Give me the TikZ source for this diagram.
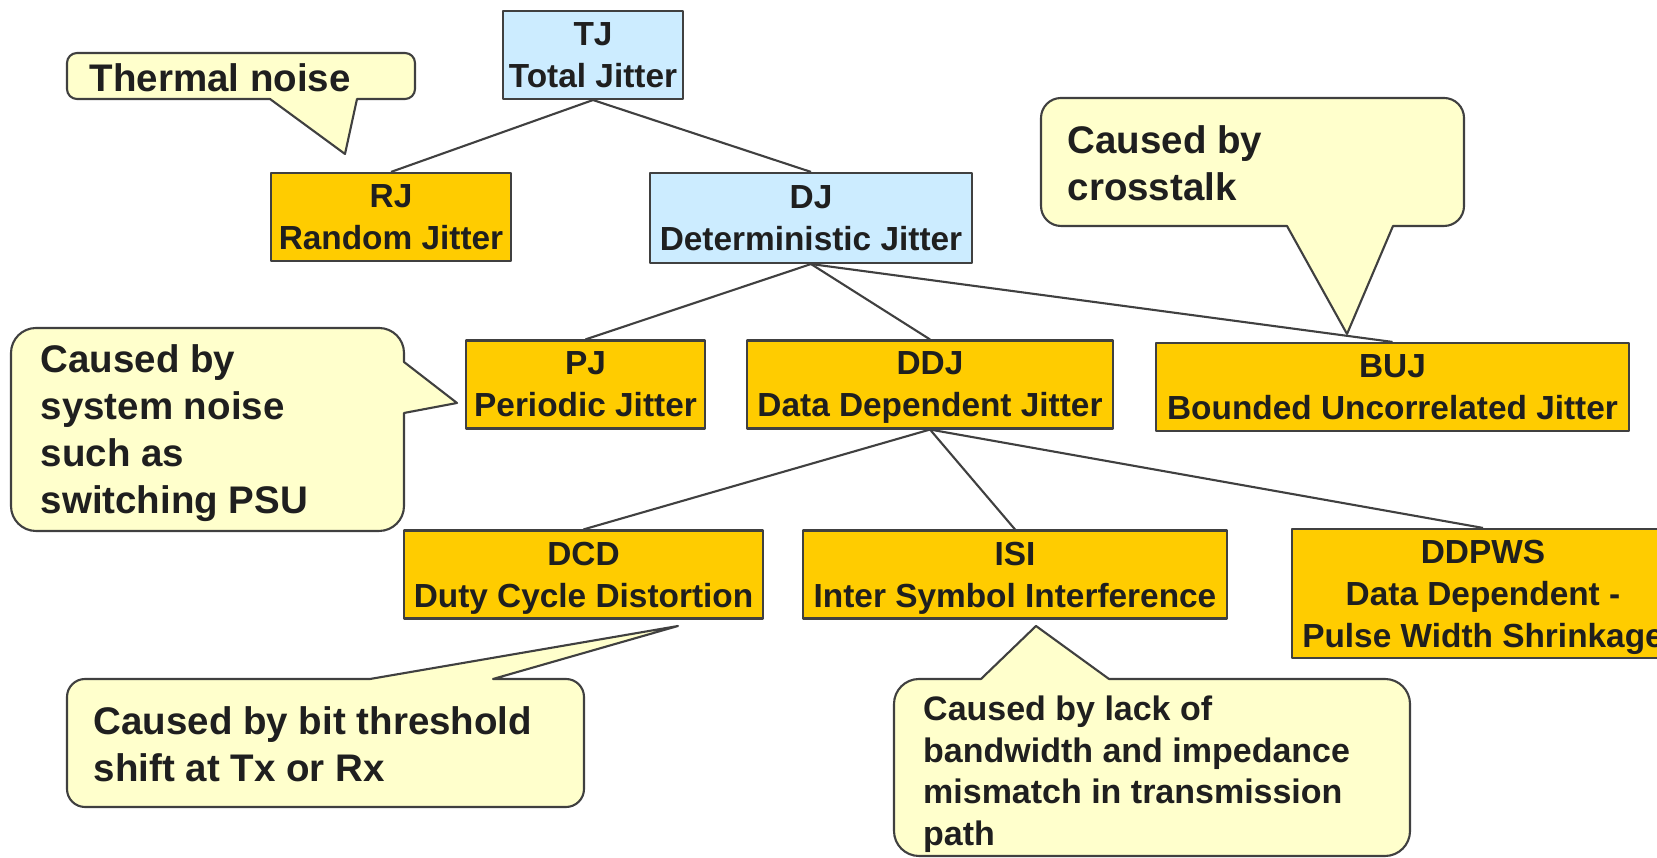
\documentclass[tikz,border=0pt]{standalone}
\usepackage{fontspec}
\setmainfont{Liberation Sans}
\usepackage{tikz}
\usepackage{xcolor}

\definecolor{jitblue}{HTML}{CCECFF}
\definecolor{jitorange}{HTML}{FFCC00}
\definecolor{notefill}{HTML}{FFFFCC}
\definecolor{edgegray}{HTML}{404040}

\tikzset{
	jitbox/.style={draw=edgegray, line width=0.6pt, inner sep=0pt, align=center,
		text=black!88, minimum height=0.88cm, text depth=0pt,
		font=\fontsize{9.5}{11.95}\selectfont\bfseries},
	bluebox/.style={jitbox, fill=jitblue},
	orangebox/.style={jitbox, fill=jitorange},
	note/.style={draw=edgegray, fill=notefill, line width=0.6pt},
	notetext/.style={inner sep=0pt, align=left, anchor=north west, text=black!88,
		font=\fontsize{10.95}{13.4}\selectfont\bfseries},
	link/.style={draw=edgegray, line width=0.6pt}
}

\begin{document}
\begin{tikzpicture}[line join=round]
		\useasboundingbox (0,0) rectangle (16.57,8.58);
		
		% callouts
		\draw[note] (2.4,8.05) [rounded corners=1mm] -- (0.67,8.05) -- (0.67,7.59)
		-- (1.5,7.59) [sharp corners] -- (2.70,7.59) -- (3.45,7.04) -- (3.57,7.59)
		-- (3.9,7.59) [rounded corners=1mm] -- (4.15,7.59) -- (4.15,8.05) -- cycle;
		
		\draw[note] (12.5,7.60) [rounded corners=2mm] -- (10.41,7.60) -- (10.41,6.32)
		-- (11.5,6.32) [sharp corners] -- (12.87,6.32) -- (13.47,5.24) -- (13.93,6.32)
		-- (14.2,6.32) [rounded corners=2mm] -- (14.64,6.32) -- (14.64,7.60) -- cycle;
		
		\draw[note] (2,5.30) [rounded corners=2.5mm] -- (0.11,5.30) -- (0.11,3.27)
		-- (4.04,3.27) -- (4.04,4.2) [sharp corners] -- (4.04,4.45) -- (4.57,4.55)
		-- (4.04,4.96) -- (4.04,5.0) [rounded corners=2.5mm] -- (4.04,5.30) -- cycle;
		
		\draw[note] (2,1.79) [rounded corners=1.8mm] -- (0.67,1.79) -- (0.67,0.51)
		-- (5.84,0.51) -- (5.84,1.79) -- (5.3,1.79) [sharp corners] -- (4.93,1.79)
		-- (6.78,2.32) -- (3.70,1.79) -- (3.2,1.79) [rounded corners=1.8mm] -- cycle;
		
		\draw[note] (12.5,1.79) [rounded corners=2.5mm] -- (14.10,1.79) -- (14.10,0.02)
		-- (8.94,0.02) -- (8.94,1.79) -- (9.5,1.79) [sharp corners] -- (9.81,1.79)
		-- (10.36,2.32) -- (11.09,1.79) -- (11.5,1.79) [rounded corners=2.5mm] -- cycle;
		
		\node[notetext] (thermal) at (0.89,7.95) {Thermal noise};
		\node[notetext] (xtalk) at (10.67,7.33) {Caused by\\crosstalk};
		\node[notetext] (psu) at (0.40,5.14) {Caused by\\system noise\\such as\\switching PSU};
		\node[notetext] (thresh) at (0.93,1.52) {Caused by bit threshold\\shift at Tx or Rx};
		\node[notetext, font=\fontsize{9.67}{11.9}\selectfont\bfseries] (bandw) at (9.225,1.63)
		{Caused by lack of\\bandwidth and impedance\\mismatch in transmission\\path};
		
		% jitter tree
		\node[bluebox, minimum width=1.80cm] (tj) at (5.93,8.03) {TJ\\Total Jitter};
		\node[orangebox, minimum width=2.40cm] (rj) at (3.91,6.41) {RJ\\Random Jitter};
		\node[bluebox, minimum width=3.22cm, minimum height=0.90cm] (dj) at (8.11,6.40)
		{DJ\\Deterministic Jitter};
		\node[orangebox, minimum width=2.39cm] (pj) at (5.855,4.735) {PJ\\Periodic Jitter};
		\node[orangebox, minimum width=3.66cm] (ddj) at (9.30,4.735) {DDJ\\Data Dependent Jitter};
		\node[orangebox, minimum width=4.73cm] (buj) at (13.925,4.71)
		{BUJ\\Bounded Uncorrelated Jitter};
		\node[orangebox, minimum width=3.59cm] (dcd) at (5.835,2.835)
		{DCD\\Duty Cycle Distortion};
		\node[orangebox, minimum width=4.24cm] (isi) at (10.15,2.835)
		{ISI\\Inter Symbol Interference};
		\node[orangebox, minimum width=3.82cm, minimum height=1.29cm] (ddpws) at (14.83,2.645)
		{DDPWS\\Data Dependent -\\Pulse Width Shrinkage};
		
		\draw[link] (tj.south) -- (rj.north);
		\draw[link] (tj.south) -- (dj.north);
		\draw[link] (dj.south) -- (pj.north);
		\draw[link] (dj.south) -- (ddj.north);
		\draw[link] (dj.south) -- (buj.north);
		\draw[link] (ddj.south) -- (dcd.north);
		\draw[link] (ddj.south) -- (isi.north);
		\draw[link] (ddj.south) -- (ddpws.north);
	\end{tikzpicture}
\end{document}
